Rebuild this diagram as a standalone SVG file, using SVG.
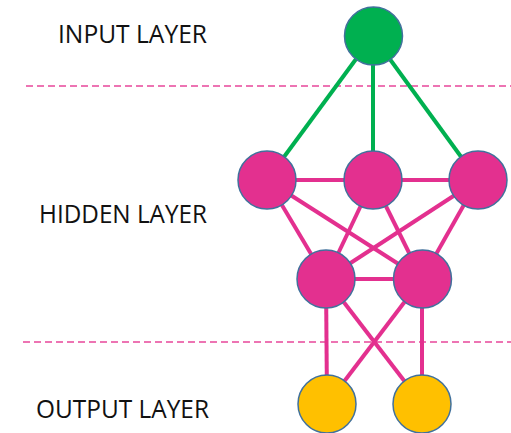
<svg xmlns="http://www.w3.org/2000/svg" width="511" height="433" viewBox="0 0 511 433">
  <style>
    .label { font-family: "Open Sans", "Liberation Sans", sans-serif; font-size: 25px; fill: #111111; }
    .divider { stroke: #E8479A; stroke-width: 1.5; stroke-dasharray: 7 4; fill: none; }
    .edge-in { stroke: #00B050; stroke-width: 4; }
    .edge { stroke: #E3308F; stroke-width: 4; }
    .node { stroke: #41719C; stroke-width: 1.5; }
    .input { fill: #00B050; }
    .hidden { fill: #E3308F; }
    .output { fill: #FFC000; }
  </style>

  <rect width="511" height="433" fill="#ffffff"/>

  <!-- layer dividers -->
  <line class="divider" x1="26" y1="86" x2="511" y2="86"/>
  <line class="divider" x1="23" y1="342" x2="511" y2="342"/>

  <!-- layer labels -->
  <text class="label" x="58" y="43" textLength="149" lengthAdjust="spacingAndGlyphs">INPUT LAYER</text>
  <text class="label" x="39" y="223" textLength="168" lengthAdjust="spacingAndGlyphs">HIDDEN LAYER</text>
  <text class="label" x="36" y="418" textLength="173" lengthAdjust="spacingAndGlyphs">OUTPUT LAYER</text>

  <!-- connectors -->
  <g id="connectors">
    <line class="edge-in" x1="373" y1="36" x2="267" y2="180"/>
    <line class="edge-in" x1="373" y1="36" x2="373" y2="180"/>
    <line class="edge-in" x1="373" y1="36" x2="478" y2="180"/>

    <line class="edge" x1="267" y1="180" x2="373" y2="180"/>
    <line class="edge" x1="373" y1="180" x2="478" y2="180"/>

    <line class="edge" x1="267" y1="180" x2="326" y2="279"/>
    <line class="edge" x1="267" y1="180" x2="422" y2="279"/>
    <line class="edge" x1="373" y1="180" x2="326" y2="279"/>
    <line class="edge" x1="373" y1="180" x2="422" y2="279"/>
    <line class="edge" x1="478" y1="180" x2="326" y2="279"/>
    <line class="edge" x1="478" y1="180" x2="422" y2="279"/>

    <line class="edge" x1="326" y1="279" x2="422" y2="279"/>

    <line class="edge" x1="326" y1="279" x2="327" y2="404"/>
    <line class="edge" x1="326" y1="279" x2="422" y2="404"/>
    <line class="edge" x1="422" y1="279" x2="327" y2="404"/>
    <line class="edge" x1="422" y1="279" x2="422" y2="404"/>
  </g>

  <!-- input layer -->
  <g id="input-1"><circle class="node input" cx="373.5" cy="36" r="29"/></g>

  <!-- hidden layer, first row -->
  <g id="hidden-1"><circle class="node hidden" cx="267" cy="180" r="29"/></g>
  <g id="hidden-2"><circle class="node hidden" cx="373" cy="180" r="29"/></g>
  <g id="hidden-3"><circle class="node hidden" cx="478" cy="180" r="29"/></g>

  <!-- hidden layer, second row -->
  <g id="hidden-4"><circle class="node hidden" cx="326" cy="279" r="29"/></g>
  <g id="hidden-5"><circle class="node hidden" cx="422.5" cy="279" r="29"/></g>

  <!-- output layer -->
  <g id="output-1"><circle class="node output" cx="327" cy="404" r="29"/></g>
  <g id="output-2"><circle class="node output" cx="422" cy="404" r="29"/></g>
</svg>
